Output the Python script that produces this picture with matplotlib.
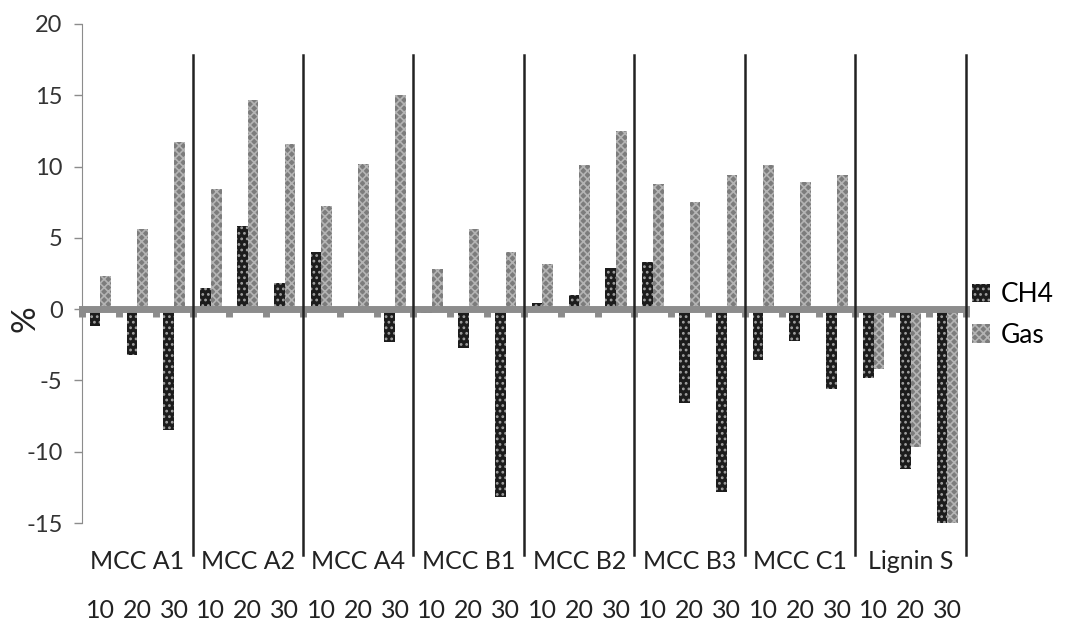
import matplotlib.pyplot as plt
import numpy as np

plt.rcParams['font.family'] = ['Lato', 'DejaVu Sans']
plt.rcParams['axes.unicode_minus'] = False
plt.rcParams['hatch.linewidth'] = 1.2

groups = ["MCC A1", "MCC A2", "MCC A4", "MCC B1", "MCC B2", "MCC B3", "MCC C1", "Lignin S"]
levels = ["10", "20", "30"]

ch4 = [-1.2, -3.2, -8.5,
       1.5, 5.8, 1.8,
       4.0, 0.0, -2.3,
       -0.3, -2.7, -13.2,
       0.4, 1.0, 2.9,
       3.3, -6.6, -12.8,
       -3.6, -2.2, -5.6,
       -4.8, -11.2, -15.0]
gas = [2.3, 5.6, 11.7,
       8.4, 14.7, 11.6,
       7.2, 10.2, 15.0,
       2.8, 5.6, 4.0,
       3.2, 10.1, 12.5,
       8.8, 7.5, 9.4,
       10.1, 8.9, 9.4,
       -4.2, -9.7, -15.0]

n = len(ch4)
x = np.arange(n) + 0.5
w = 0.29

fig = plt.figure(figsize=(10.81, 6.25), dpi=100)
ax = fig.add_axes([0.0759, 0.1632, 0.8176, 0.7984])

ax.bar(x - w / 2, ch4, w, color='#1c1c1c', edgecolor='#a0a0a0', linewidth=0, hatch='...', label='CH4')
ax.bar(x + w / 2, gas, w, color='#7c7c7c', edgecolor='#b4b4b4', linewidth=0, hatch='xxxx', label='Gas')

ax.set_xlim(0, n)
ax.set_ylim(-15, 20)
ax.set_yticks(np.arange(-15, 21, 5))
ax.tick_params(axis='y', length=6, width=1, color='#8c8c8c', labelsize=17, labelcolor='#333333', pad=8)

# x axis drawn at zero as a thick gray bar, ticks between categories
ax.spines['bottom'].set_position(('data', 0))
ax.spines['bottom'].set_color('#8c8c8c')
ax.spines['bottom'].set_linewidth(5)
ax.spines['bottom'].set_zorder(3)
ax.set_xticks(np.arange(0, n + 1))
ax.tick_params(axis='x', direction='out', length=6, width=5, color='#8c8c8c', labelbottom=False)
ax.spines['left'].set_color('#8c8c8c')
ax.spines['top'].set_visible(False)
ax.spines['right'].set_visible(False)

# group separators
for k in range(1, len(groups) + 1):
    ax.plot([3 * k, 3 * k], [-0.064, 0.938], color='#222222', lw=1.8,
            transform=ax.get_xaxis_transform(), clip_on=False, zorder=4)

trans = ax.get_xaxis_transform()
for i, g in enumerate(groups):
    ax.text(3 * i + 1.5, -0.078, g, transform=trans, ha='center', va='center',
            fontsize=18, color='#222222')
    for j, lv in enumerate(levels):
        ax.text(3 * i + j + 0.5, -0.175, lv, transform=trans, ha='center', va='center',
                fontsize=18, color='#222222')

ax.set_ylabel('%', fontsize=24, color='#222222')
ax.yaxis.set_label_coords(-0.047, 0.41)

leg = ax.legend(loc='center left', bbox_to_anchor=(0.995, 0.417), frameon=False,
                borderaxespad=0, fontsize=19, handlelength=0.7, handleheight=0.7,
                labelspacing=0.6, handletextpad=0.4)

fig.savefig('out.png', dpi=100)
